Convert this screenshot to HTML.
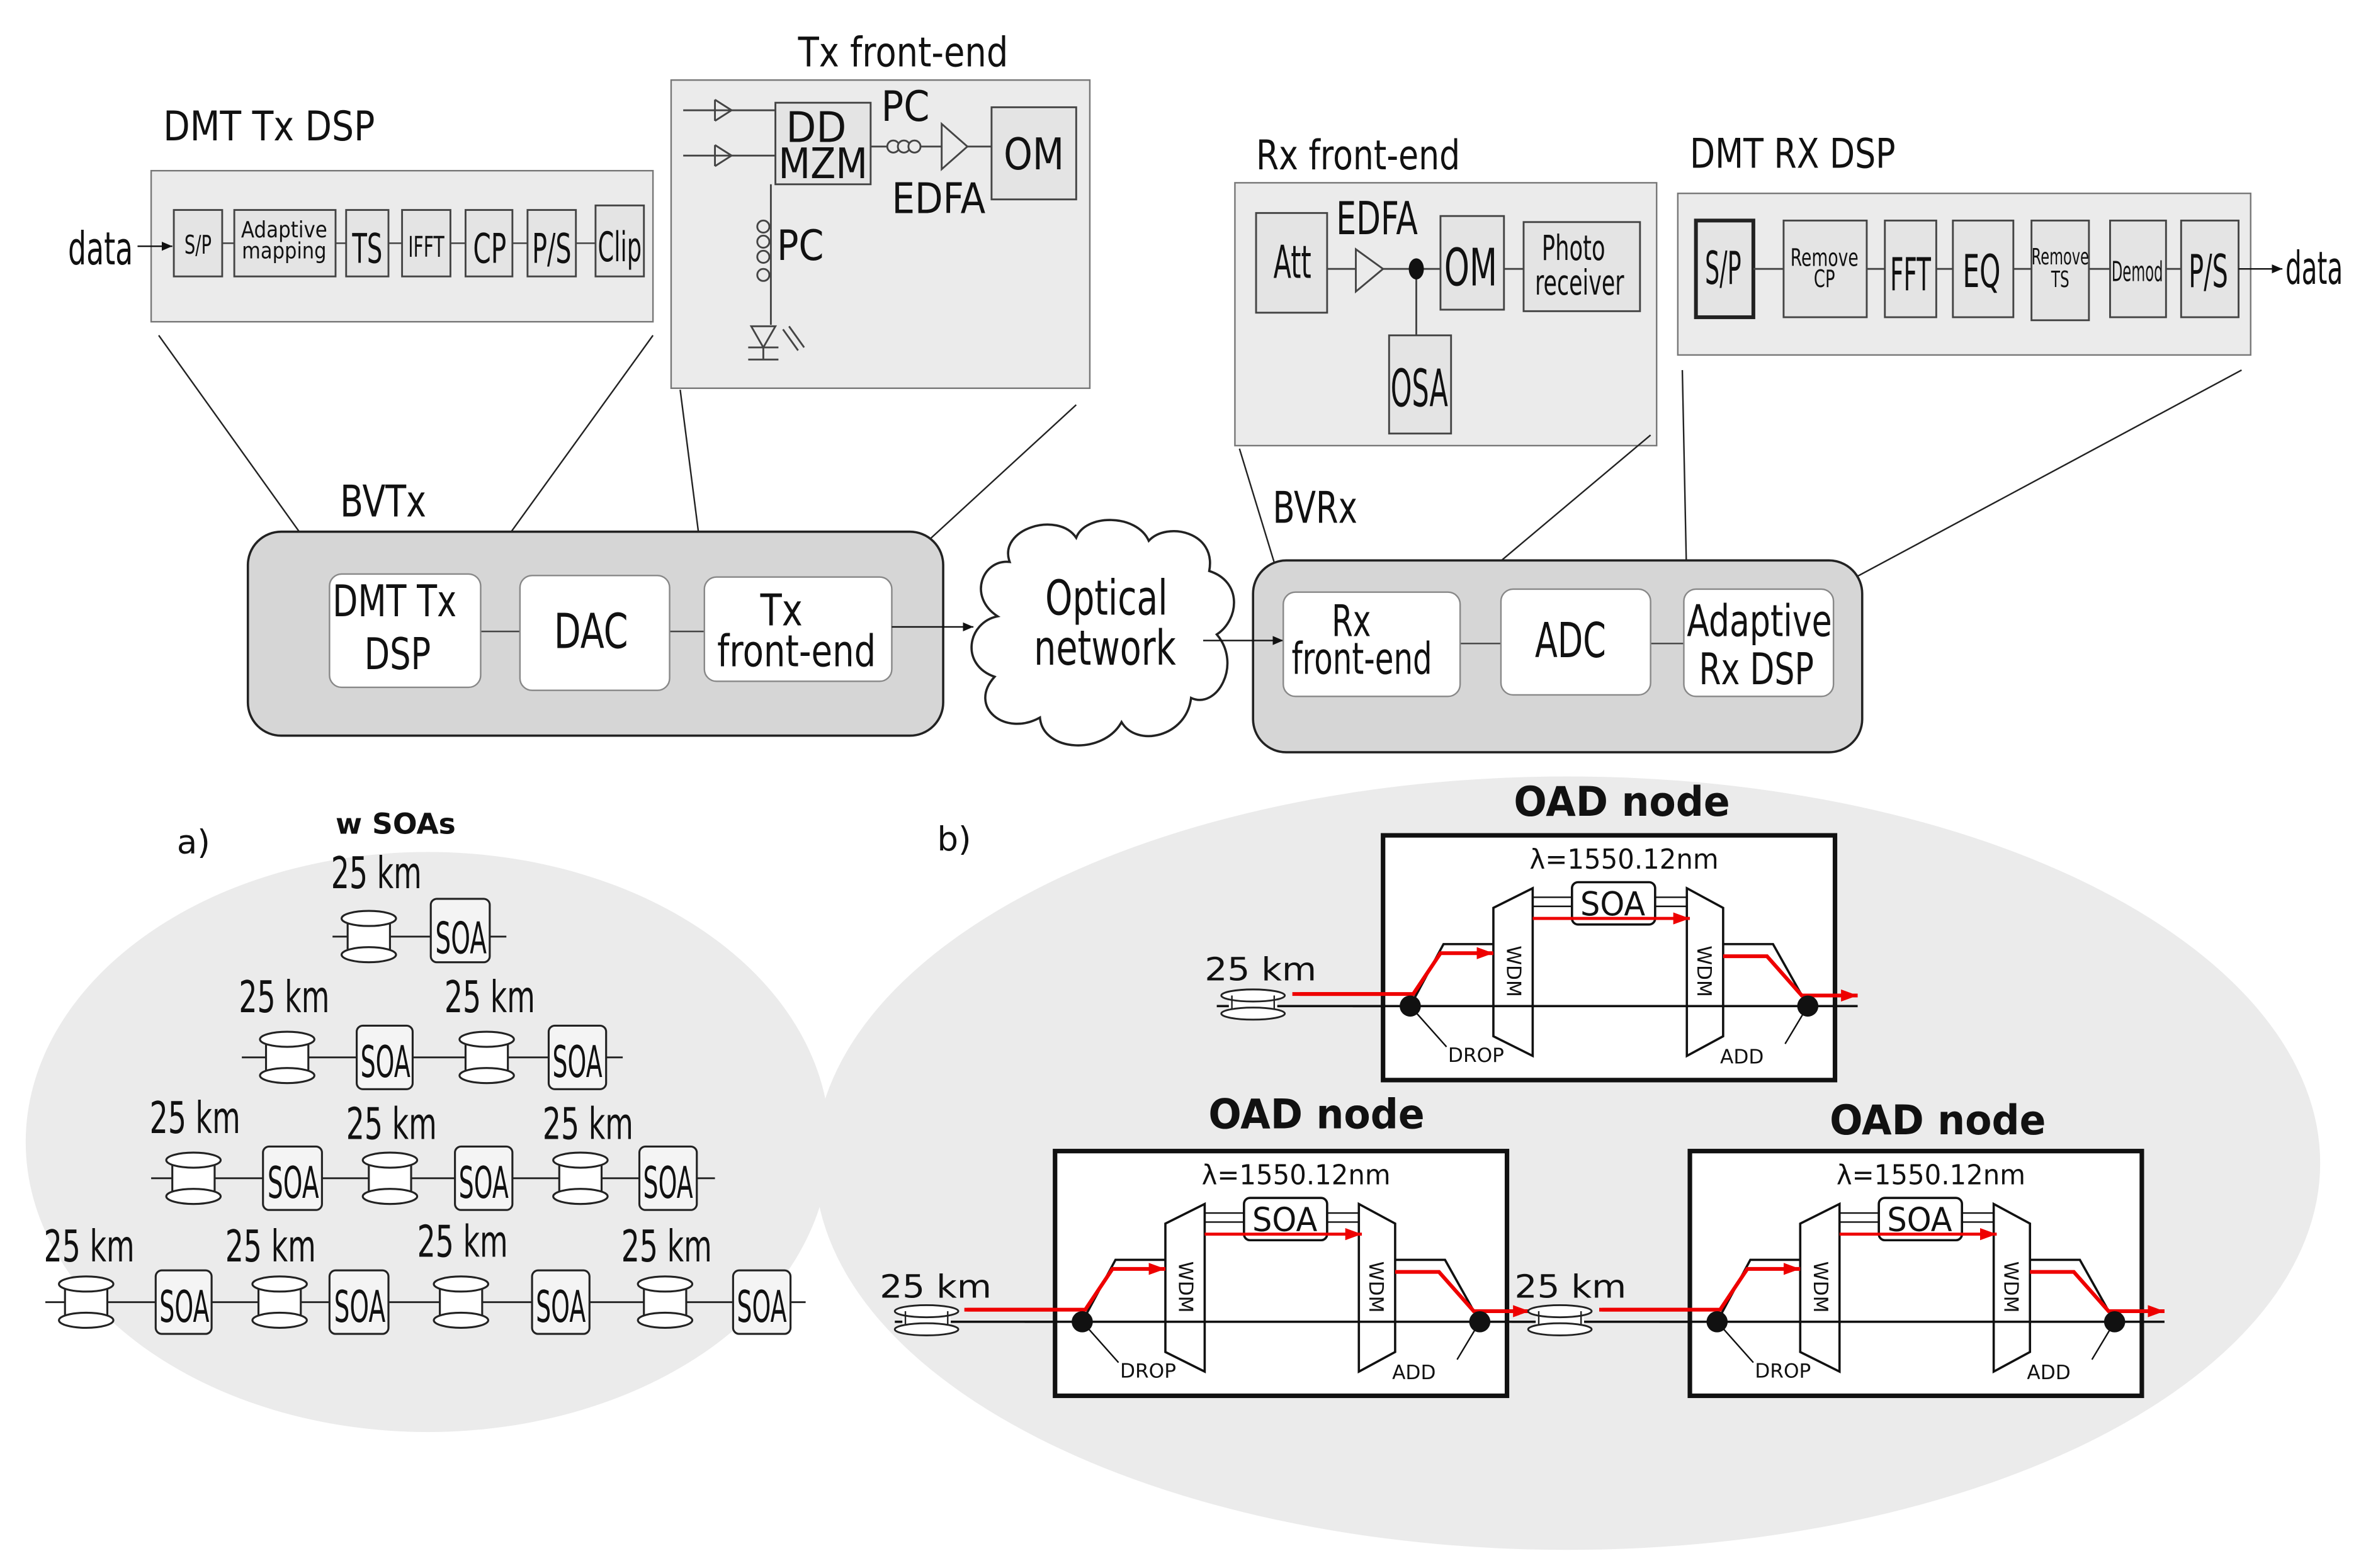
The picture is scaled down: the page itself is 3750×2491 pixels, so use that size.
<!DOCTYPE html>
<html><head><meta charset="utf-8">
<style>
html,body{margin:0;padding:0;background:#fff;}
svg{display:block;}
text{font-family:"DejaVu Sans","Liberation Sans",sans-serif;fill:#111;}
.b{font-weight:bold;}
</style></head><body>
<svg width="3750" height="2491" viewBox="0 0 1562 1038" preserveAspectRatio="none" xmlns="http://www.w3.org/2000/svg">
<defs>
<marker id="ak" markerWidth="8" markerHeight="8" refX="7" refY="4" orient="auto" markerUnits="userSpaceOnUse"><path d="M0,1 L7,4 L0,7 Z" fill="#111"/></marker>
<marker id="ar" markerWidth="12" markerHeight="10" refX="11" refY="5" orient="auto" markerUnits="userSpaceOnUse"><path d="M0,1 L11,5 L0,9 Z" fill="#e00"/></marker>
<g id="spool">
<rect x="-14" y="-12" width="28" height="24" fill="#fff"/>
<line x1="-14" y1="-12" x2="-14" y2="12" stroke="#222" stroke-width="1.3"/>
<line x1="14" y1="-12" x2="14" y2="12" stroke="#222" stroke-width="1.3"/>
<ellipse cx="0" cy="-12" rx="18" ry="5" fill="#fff" stroke="#222" stroke-width="1.3"/>
<ellipse cx="0" cy="12" rx="18" ry="5" fill="#fff" stroke="#222" stroke-width="1.3"/>
</g>
<g id="spoolh">
<rect x="-16" y="-7" width="32" height="14" fill="#fff" stroke="none"/>
<ellipse cx="0" cy="-6" rx="21" ry="4" fill="#fff" stroke="#222" stroke-width="1.2"/>
<line x1="-14" y1="-6" x2="-14" y2="6" stroke="#222"/>
<line x1="14" y1="-6" x2="14" y2="6" stroke="#222"/>
<ellipse cx="0" cy="6" rx="21" ry="4" fill="#fff" stroke="#222" stroke-width="1.2"/>
</g>
<g id="node">
<rect x="0" y="0" width="299" height="162" fill="#fff" stroke="#111" stroke-width="3"/>
<text x="97" y="22" font-size="18" textLength="125" lengthAdjust="spacingAndGlyphs">λ=1550.12nm</text>
<line x1="99" y1="41" x2="125" y2="41" stroke="#111"/>
<line x1="180" y1="41" x2="201" y2="41" stroke="#111"/>
<line x1="99" y1="47" x2="125" y2="47" stroke="#111"/>
<line x1="180" y1="47" x2="201" y2="47" stroke="#111"/>
<rect x="125" y="31" width="55" height="28" rx="4" fill="#fff" stroke="#111" stroke-width="1.5"/>
<text x="152" y="53" font-size="22" text-anchor="middle" textLength="43" lengthAdjust="spacingAndGlyphs">SOA</text>
<polygon points="73,48 99,35 99,146 73,133" fill="#fff" stroke="#111" stroke-width="1.5"/>
<polygon points="201,35 225,48 225,133 201,146" fill="#fff" stroke="#111" stroke-width="1.5"/>
<text transform="translate(82,90) rotate(90)" font-size="13" text-anchor="middle">WDM</text>
<text transform="translate(208,90) rotate(90)" font-size="13" text-anchor="middle">WDM</text>
<line x1="99" y1="55" x2="203" y2="55" stroke="#e00" stroke-width="2" marker-end="url(#ar)"/>
<polyline points="18,113 40,72 73,72" fill="none" stroke="#111" stroke-width="1.5"/>
<polyline points="-60,105 20,105 38,78 73,78" fill="none" stroke="#e00" stroke-width="2.5" marker-end="url(#ar)"/>
<polyline points="225,72 258,72 281,113" fill="none" stroke="#111" stroke-width="1.5"/>
<polyline points="225,80 254,80 277,106 314,106" fill="none" stroke="#e00" stroke-width="2.5" marker-end="url(#ar)"/>
<line x1="-20" y1="113" x2="314" y2="113" stroke="#111" stroke-width="1.5"/>
<line x1="18" y1="113" x2="42" y2="140" stroke="#111"/>
<line x1="281" y1="113" x2="266" y2="138" stroke="#111"/>
<circle cx="18" cy="113" r="7" fill="#111"/>
<circle cx="281" cy="113" r="7" fill="#111"/>
<text x="43" y="150" font-size="13">DROP</text>
<text x="223" y="151" font-size="13">ADD</text>
</g>
</defs>

<!-- DMT Tx DSP -->
<text x="108" y="93" font-size="27" textLength="140" lengthAdjust="spacingAndGlyphs">DMT Tx DSP</text>
<rect x="100" y="113" width="332" height="100" fill="#ebebeb" stroke="#777"/>
<text x="45" y="175" font-size="30" textLength="43" lengthAdjust="spacingAndGlyphs">data</text>
<line x1="91" y1="163" x2="114" y2="163" stroke="#111" marker-end="url(#ak)"/>
<g stroke="#444" fill="#e4e4e4" stroke-width="1.2">
<rect x="115" y="139" width="32" height="44"/>
<rect x="155" y="139" width="67" height="44"/>
<rect x="229" y="139" width="28" height="44"/>
<rect x="266" y="139" width="32" height="44"/>
<rect x="308" y="139" width="31" height="44"/>
<rect x="349" y="139" width="32" height="44"/>
<rect x="394" y="136" width="32" height="47"/>
</g>
<g stroke="#444"><line x1="147" y1="161" x2="155" y2="161"/><line x1="222" y1="161" x2="229" y2="161"/><line x1="257" y1="161" x2="266" y2="161"/><line x1="298" y1="161" x2="308" y2="161"/><line x1="339" y1="161" x2="349" y2="161"/><line x1="381" y1="161" x2="394" y2="161"/></g>
<g text-anchor="middle" lengthAdjust="spacingAndGlyphs">
<text x="131" y="168" font-size="17" textLength="18" lengthAdjust="spacingAndGlyphs">S/P</text>
<text x="188" y="157" font-size="15" textLength="57" lengthAdjust="spacingAndGlyphs">Adaptive</text>
<text x="188" y="171" font-size="15" textLength="56" lengthAdjust="spacingAndGlyphs">mapping</text>
<text x="243" y="174" font-size="27" textLength="20" lengthAdjust="spacingAndGlyphs">TS</text>
<text x="282" y="170" font-size="19" textLength="24" lengthAdjust="spacingAndGlyphs">IFFT</text>
<text x="324" y="174" font-size="27" textLength="22" lengthAdjust="spacingAndGlyphs">CP</text>
<text x="365" y="174" font-size="27" textLength="26" lengthAdjust="spacingAndGlyphs">P/S</text>
<text x="410" y="173" font-size="27" textLength="29" lengthAdjust="spacingAndGlyphs">Clip</text>
</g>

<!-- Tx front-end -->
<text x="528" y="44" font-size="27" textLength="139" lengthAdjust="spacingAndGlyphs">Tx front-end</text>
<rect x="444" y="53" width="277" height="204" fill="#ebebeb" stroke="#777"/>
<g stroke="#444" fill="none" stroke-width="1.2">
<line x1="452" y1="73" x2="513" y2="73"/><line x1="452" y1="103" x2="513" y2="103"/>
<polyline points="473,66 484,73 473,80"/><polyline points="473,96 484,103 473,110"/>
<line x1="473" y1="66" x2="473" y2="80"/><line x1="473" y1="96" x2="473" y2="110"/>
<rect x="513" y="68" width="63" height="54" fill="#e4e4e4"/>
<line x1="576" y1="97" x2="623" y2="97"/>
<circle cx="591" cy="97" r="4" fill="#ebebeb"/><circle cx="598" cy="97" r="4" fill="#ebebeb"/><circle cx="605" cy="97" r="4" fill="#ebebeb"/>
<polygon points="623,82 640,97 623,112" fill="#ebebeb"/>
<line x1="640" y1="97" x2="656" y2="97"/>
<rect x="656" y="71" width="56" height="61" fill="#e4e4e4"/>
<line x1="510" y1="122" x2="510" y2="215"/>
<circle cx="505" cy="150" r="4" fill="#ebebeb"/><circle cx="505" cy="160" r="4" fill="#ebebeb"/><circle cx="505" cy="170" r="4" fill="#ebebeb"/><circle cx="505" cy="182" r="4" fill="#ebebeb"/>
<polygon points="497,216 513,216 505,230" fill="#ebebeb"/>
<line x1="495" y1="230" x2="515" y2="230"/><line x1="505" y1="230" x2="505" y2="238"/><line x1="495" y1="238" x2="515" y2="238"/>
<line x1="518" y1="218" x2="528" y2="232"/><line x1="522" y1="216" x2="532" y2="230"/>
</g>
<text x="520" y="94" font-size="28" textLength="40" lengthAdjust="spacingAndGlyphs">DD</text>
<text x="515" y="118" font-size="28" textLength="59" lengthAdjust="spacingAndGlyphs">MZM</text>
<text x="583" y="80" font-size="28" textLength="32" lengthAdjust="spacingAndGlyphs">PC</text>
<text x="590" y="141" font-size="28" textLength="62" lengthAdjust="spacingAndGlyphs">EDFA</text>
<text x="664" y="112" font-size="29" textLength="40" lengthAdjust="spacingAndGlyphs">OM</text>
<text x="514" y="172" font-size="28" textLength="31" lengthAdjust="spacingAndGlyphs">PC</text>

<!-- Rx front-end -->
<text x="831" y="112" font-size="27" textLength="135" lengthAdjust="spacingAndGlyphs">Rx front-end</text>
<rect x="817" y="121" width="279" height="174" fill="#ebebeb" stroke="#777"/>
<g stroke="#444" fill="#e4e4e4" stroke-width="1.2">
<rect x="831" y="141" width="47" height="66"/>
<line x1="878" y1="178" x2="953" y2="178"/>
<polygon points="897,165 915,178 897,193" fill="#ebebeb"/>
<line x1="937" y1="178" x2="937" y2="222"/>
<rect x="953" y="143" width="42" height="62"/>
<line x1="995" y1="178" x2="1008" y2="178"/>
<rect x="1008" y="147" width="77" height="59"/>
<rect x="919" y="222" width="41" height="65"/>
</g>
<ellipse cx="937" cy="178" rx="5" ry="7" fill="#111"/>
<text x="855" y="184" font-size="30" text-anchor="middle" textLength="25" lengthAdjust="spacingAndGlyphs">Att</text>
<text x="884" y="155" font-size="30" textLength="54" lengthAdjust="spacingAndGlyphs">EDFA</text>
<text x="973" y="189" font-size="34" text-anchor="middle" textLength="35" lengthAdjust="spacingAndGlyphs">OM</text>
<text x="1041" y="172" font-size="23" text-anchor="middle" textLength="42" lengthAdjust="spacingAndGlyphs">Photo</text>
<text x="1045" y="195" font-size="23" text-anchor="middle" textLength="59" lengthAdjust="spacingAndGlyphs">receiver</text>
<text x="939" y="269" font-size="34" text-anchor="middle" textLength="38" lengthAdjust="spacingAndGlyphs">OSA</text>

<!-- DMT RX DSP -->
<text x="1118" y="111" font-size="27" textLength="136" lengthAdjust="spacingAndGlyphs">DMT RX DSP</text>
<rect x="1110" y="128" width="379" height="107" fill="#ebebeb" stroke="#777"/>
<g stroke="#444" fill="#e4e4e4" stroke-width="1.2">
<rect x="1122" y="146" width="38" height="64" stroke-width="2.5" stroke="#222"/>
<rect x="1180" y="146" width="55" height="64"/>
<rect x="1247" y="146" width="34" height="64"/>
<rect x="1292" y="146" width="40" height="64"/>
<rect x="1344" y="146" width="38" height="66"/>
<rect x="1396" y="146" width="37" height="64"/>
<rect x="1443" y="146" width="38" height="64"/>
<line x1="1160" y1="178" x2="1180" y2="178"/><line x1="1235" y1="178" x2="1247" y2="178"/><line x1="1281" y1="178" x2="1292" y2="178"/><line x1="1332" y1="178" x2="1344" y2="178"/><line x1="1382" y1="178" x2="1396" y2="178"/><line x1="1433" y1="178" x2="1443" y2="178"/>
</g>
<line x1="1481" y1="178" x2="1510" y2="178" stroke="#111" marker-end="url(#ak)"/>
<text x="1512" y="188" font-size="30" textLength="38" lengthAdjust="spacingAndGlyphs">data</text>
<text x="1140" y="188" font-size="30" text-anchor="middle" textLength="24" lengthAdjust="spacingAndGlyphs">S/P</text>
<text x="1207" y="176" font-size="16" text-anchor="middle" textLength="45" lengthAdjust="spacingAndGlyphs">Remove</text>
<text x="1207" y="190" font-size="16" text-anchor="middle" textLength="14" lengthAdjust="spacingAndGlyphs">CP</text>
<text x="1264" y="192" font-size="30" text-anchor="middle" textLength="27" lengthAdjust="spacingAndGlyphs">FFT</text>
<text x="1311" y="190" font-size="30" text-anchor="middle" textLength="25" lengthAdjust="spacingAndGlyphs">EQ</text>
<text x="1363" y="175" font-size="15" text-anchor="middle" textLength="38" lengthAdjust="spacingAndGlyphs">Remove</text>
<text x="1363" y="190" font-size="15" text-anchor="middle" textLength="12" lengthAdjust="spacingAndGlyphs">TS</text>
<text x="1414" y="186" font-size="18" text-anchor="middle" textLength="34" lengthAdjust="spacingAndGlyphs">Demod</text>
<text x="1461" y="190" font-size="30" text-anchor="middle" textLength="26" lengthAdjust="spacingAndGlyphs">P/S</text>

<!-- zoom lines -->
<g stroke="#222" stroke-width="1">
<line x1="105" y1="222" x2="218" y2="380"/><line x1="432" y1="222" x2="318" y2="380"/>
<line x1="450" y1="258" x2="466" y2="383"/><line x1="712" y1="268" x2="590" y2="380"/>
<line x1="820" y1="297" x2="849" y2="392"/><line x1="1092" y1="288" x2="966" y2="394"/>
<line x1="1113" y1="245" x2="1116" y2="390"/><line x1="1483" y1="245" x2="1213" y2="390"/>
</g>

<!-- BVTx -->
<text x="225" y="342" font-size="29" textLength="57" lengthAdjust="spacingAndGlyphs">BVTx</text>
<rect x="164" y="352" width="460" height="135" rx="22" fill="#d6d6d6" stroke="#222" stroke-width="1.5"/>
<line x1="318" y1="418" x2="344" y2="418" stroke="#444"/>
<line x1="443" y1="418" x2="466" y2="418" stroke="#444"/>
<rect x="218" y="380" width="100" height="75" rx="8" fill="#fff" stroke="#888"/>
<rect x="344" y="381" width="99" height="76" rx="8" fill="#fff" stroke="#888"/>
<rect x="466" y="382" width="124" height="69" rx="8" fill="#fff" stroke="#888"/>
<text x="261" y="408" font-size="29" text-anchor="middle" textLength="82" lengthAdjust="spacingAndGlyphs">DMT Tx</text>
<text x="263" y="443" font-size="29" text-anchor="middle" textLength="44" lengthAdjust="spacingAndGlyphs">DSP</text>
<text x="391" y="429" font-size="32" text-anchor="middle" textLength="49" lengthAdjust="spacingAndGlyphs">DAC</text>
<text x="517" y="414" font-size="29" text-anchor="middle" textLength="28" lengthAdjust="spacingAndGlyphs">Tx</text>
<text x="527" y="441" font-size="29" text-anchor="middle" textLength="105" lengthAdjust="spacingAndGlyphs">front-end</text>
<line x1="590" y1="415" x2="644" y2="415" stroke="#111" marker-end="url(#ak)"/>

<!-- cloud -->
<path d="M668,372 C660,350 700,338 712,356 C718,340 752,340 760,358 C772,345 805,352 800,378 C822,385 820,410 805,420 C822,440 805,470 788,462 C785,488 752,495 742,478 C730,500 690,498 688,475 C665,488 640,468 658,448 C635,440 640,412 660,408 C640,395 650,370 668,372 Z" fill="#fff" stroke="#222" stroke-width="1.5"/>
<text x="732" y="407" font-size="32" text-anchor="middle" textLength="81" lengthAdjust="spacingAndGlyphs">Optical</text>
<text x="731" y="440" font-size="32" text-anchor="middle" textLength="94" lengthAdjust="spacingAndGlyphs">network</text>

<!-- BVRx -->
<text x="842" y="346" font-size="29" textLength="56" lengthAdjust="spacingAndGlyphs">BVRx</text>
<rect x="829" y="371" width="403" height="127" rx="22" fill="#d6d6d6" stroke="#222" stroke-width="1.5"/>
<line x1="796" y1="424" x2="849" y2="424" stroke="#111" marker-end="url(#ak)"/>
<line x1="966" y1="426" x2="993" y2="426" stroke="#444"/>
<line x1="1092" y1="426" x2="1114" y2="426" stroke="#444"/>
<rect x="849" y="392" width="117" height="69" rx="8" fill="#fff" stroke="#888"/>
<rect x="993" y="390" width="99" height="70" rx="8" fill="#fff" stroke="#888"/>
<rect x="1114" y="390" width="99" height="71" rx="8" fill="#fff" stroke="#888"/>
<text x="894" y="421" font-size="29" text-anchor="middle" textLength="26" lengthAdjust="spacingAndGlyphs">Rx</text>
<text x="901" y="446" font-size="29" text-anchor="middle" textLength="93" lengthAdjust="spacingAndGlyphs">front-end</text>
<text x="1039" y="435" font-size="32" text-anchor="middle" textLength="47" lengthAdjust="spacingAndGlyphs">ADC</text>
<text x="1164" y="421" font-size="29" text-anchor="middle" textLength="96" lengthAdjust="spacingAndGlyphs">Adaptive</text>
<text x="1162" y="453" font-size="29" text-anchor="middle" textLength="76" lengthAdjust="spacingAndGlyphs">Rx DSP</text>

<!-- a) -->
<ellipse cx="283" cy="756" rx="266" ry="192" fill="#ebebeb"/>
<text x="117" y="565" font-size="22">a)</text>
<text x="222" y="552" font-size="19" class="b">w  SOAs</text>
<g font-size="29">
<text x="219" y="588" textLength="60" lengthAdjust="spacingAndGlyphs">25 km</text>
<text x="158" y="670" textLength="60" lengthAdjust="spacingAndGlyphs">25 km</text><text x="294" y="670" textLength="60" lengthAdjust="spacingAndGlyphs">25 km</text>
<text x="99" y="750" textLength="60" lengthAdjust="spacingAndGlyphs">25 km</text><text x="229" y="754" textLength="60" lengthAdjust="spacingAndGlyphs">25 km</text><text x="359" y="754" textLength="60" lengthAdjust="spacingAndGlyphs">25 km</text>
<text x="29" y="835" textLength="60" lengthAdjust="spacingAndGlyphs">25 km</text><text x="149" y="835" textLength="60" lengthAdjust="spacingAndGlyphs">25 km</text><text x="276" y="832" textLength="60" lengthAdjust="spacingAndGlyphs">25 km</text><text x="411" y="835" textLength="60" lengthAdjust="spacingAndGlyphs">25 km</text>
</g>
<g stroke="#222" stroke-width="1.2">
<line x1="220" y1="620" x2="335" y2="620"/>
<line x1="160" y1="700" x2="412" y2="700"/>
<line x1="100" y1="780" x2="473" y2="780"/>
<line x1="30" y1="862" x2="533" y2="862"/>
</g>
<use href="#spool" x="244" y="620"/>
<use href="#spool" x="190" y="700"/><use href="#spool" x="322" y="700"/>
<use href="#spool" x="128" y="780"/><use href="#spool" x="258" y="780"/><use href="#spool" x="384" y="780"/>
<use href="#spool" x="57" y="862"/><use href="#spool" x="185" y="862"/><use href="#spool" x="305" y="862"/><use href="#spool" x="440" y="862"/>
<g fill="#f4f4f4" stroke="#222" stroke-width="1.3">
<rect x="285" y="595" width="39" height="42" rx="4"/>
<rect x="236" y="679" width="37" height="42" rx="4"/><rect x="363" y="679" width="38" height="42" rx="4"/>
<rect x="174" y="759" width="39" height="42" rx="4"/><rect x="301" y="759" width="38" height="42" rx="4"/><rect x="423" y="759" width="38" height="42" rx="4"/>
<rect x="103" y="841" width="37" height="42" rx="4"/><rect x="218" y="841" width="39" height="42" rx="4"/><rect x="352" y="841" width="38" height="42" rx="4"/><rect x="485" y="841" width="38" height="42" rx="4"/>
</g>
<g font-size="29" text-anchor="middle">
<text x="305" y="631" textLength="34" lengthAdjust="spacingAndGlyphs">SOA</text>
<text x="255" y="713" textLength="33" lengthAdjust="spacingAndGlyphs">SOA</text><text x="382" y="713" textLength="33" lengthAdjust="spacingAndGlyphs">SOA</text>
<text x="194" y="793" textLength="34" lengthAdjust="spacingAndGlyphs">SOA</text><text x="320" y="793" textLength="33" lengthAdjust="spacingAndGlyphs">SOA</text><text x="442" y="793" textLength="33" lengthAdjust="spacingAndGlyphs">SOA</text>
<text x="122" y="875" textLength="33" lengthAdjust="spacingAndGlyphs">SOA</text><text x="238" y="875" textLength="34" lengthAdjust="spacingAndGlyphs">SOA</text><text x="371" y="875" textLength="33" lengthAdjust="spacingAndGlyphs">SOA</text><text x="504" y="875" textLength="33" lengthAdjust="spacingAndGlyphs">SOA</text>
</g>

<!-- b) -->
<ellipse cx="1037" cy="770" rx="498" ry="256" fill="#ebebeb"/>
<text x="620" y="563" font-size="22">b)</text>
<text x="1073" y="540" font-size="27" text-anchor="middle" class="b" textLength="143" lengthAdjust="spacingAndGlyphs">OAD node</text>
<text x="871" y="747" font-size="27" text-anchor="middle" class="b" textLength="143" lengthAdjust="spacingAndGlyphs">OAD node</text>
<text x="1282" y="751" font-size="27" text-anchor="middle" class="b" textLength="143" lengthAdjust="spacingAndGlyphs">OAD node</text>

<text x="797" y="649" font-size="21" textLength="74" lengthAdjust="spacingAndGlyphs">25 km</text>
<line x1="805" y1="666" x2="915" y2="666" stroke="#111" stroke-width="1.5"/>
<line x1="860" y1="658" x2="915" y2="658" stroke="#e00" stroke-width="2.5"/>
<use href="#spoolh" x="829" y="665"/>
<use href="#node" x="915" y="553"/>

<text x="582" y="859" font-size="21" textLength="74" lengthAdjust="spacingAndGlyphs">25 km</text>
<line x1="592" y1="875" x2="698" y2="875" stroke="#111" stroke-width="1.5"/>
<line x1="640" y1="867" x2="698" y2="867" stroke="#e00" stroke-width="2.5"/>
<use href="#spoolh" x="613" y="874"/>
<use href="#node" x="698" y="762"/>

<text x="1002" y="859" font-size="21" textLength="74" lengthAdjust="spacingAndGlyphs">25 km</text>
<line x1="1000" y1="875" x2="1118" y2="875" stroke="#111" stroke-width="1.5"/>
<line x1="1060" y1="867" x2="1118" y2="867" stroke="#e00" stroke-width="2.5"/>
<use href="#spoolh" x="1032" y="874"/>
<use href="#node" x="1118" y="762"/>
</svg>
</body></html>
